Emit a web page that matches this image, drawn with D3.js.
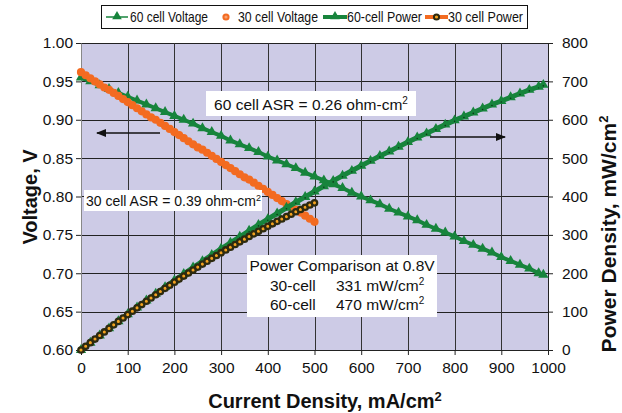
<!DOCTYPE html>
<html>
<head>
<meta charset="utf-8">
<script src="https://cdn.jsdelivr.net/npm/d3@7"></script>
<style>
  html, body { margin: 0; padding: 0; background: #fff; }
  svg { display: block; }
  text { font-family: "Liberation Sans", Arial, sans-serif; fill: #111; }
</style>
</head>
<body>
<svg id="chart" width="622" height="413"></svg>
<script>
// Current density (mA/cm2) for the 60-cell stack
const current60 = [0,20,40,60,80,100,120,140,160,180,200,220,240,260,280,300,320,340,360,380,400,420,440,460,480,500,520,540,560,580,600,620,640,660,680,700,720,740,760,780,800,820,840,860,880,900,920,940,960,980,990];
// Average cell voltage (V), 60-cell stack
const voltage60 = [0.955,0.950,0.945,0.940,0.935,0.930,0.925,0.920,0.915,0.910,0.905,0.900,0.895,0.889,0.884,0.879,0.873,0.868,0.863,0.858,0.852,0.847,0.842,0.837,0.831,0.826,0.821,0.816,0.811,0.805,0.800,0.795,0.790,0.784,0.779,0.774,0.769,0.763,0.758,0.753,0.748,0.742,0.737,0.732,0.727,0.721,0.716,0.711,0.706,0.700,0.698];
// Power density (mW/cm2), 60-cell stack
const power60 = [0,19.0,37.8,56.4,74.8,93.0,111.0,128.8,146.4,163.8,181.0,198.0,214.8,231.1,247.5,263.7,279.4,295.1,310.7,326.0,340.8,355.7,370.5,385.0,398.9,413.0,426.9,440.6,454.2,466.9,480.0,492.9,505.6,517.4,529.7,541.8,553.7,564.6,576.1,587.3,598.4,608.4,619.1,629.5,639.8,648.9,658.7,668.3,677.8,686.0,691.0];

// Current density (mA/cm2) for the 30-cell stack
const current30 = [0,10,20,30,40,50,60,70,80,90,100,110,120,130,140,150,160,170,180,190,200,210,220,230,240,250,260,270,280,290,300,310,320,330,340,350,360,370,380,390,400,410,420,430,440,450,460,470,480,490,500];
// Average cell voltage (V), 30-cell stack
const voltage30 = [0.962,0.958,0.954,0.950,0.946,0.942,0.939,0.935,0.931,0.927,0.923,0.919,0.915,0.911,0.907,0.903,0.900,0.896,0.892,0.888,0.884,0.880,0.876,0.872,0.868,0.864,0.861,0.857,0.853,0.849,0.845,0.841,0.837,0.833,0.829,0.825,0.822,0.818,0.814,0.810,0.806,0.802,0.798,0.794,0.790,0.786,0.783,0.779,0.775,0.771,0.767];
// Power density (mW/cm2), 30-cell stack
const power30 = [0,9.6,19.1,28.5,37.8,47.1,56.3,65.5,74.5,83.4,92.3,101.1,109.8,118.4,127.0,135.5,144.0,152.3,160.6,168.7,176.8,184.8,192.7,200.6,208.3,216.0,223.9,231.4,238.8,246.2,253.5,260.7,267.8,274.9,281.9,288.8,295.9,302.7,309.3,315.9,322.4,328.8,335.2,341.4,347.6,353.7,360.2,366.1,372.0,377.8,383.5];

const xTicks = [0,100,200,300,400,500,600,700,800,900,1000];
const vTicks = [0.60,0.65,0.70,0.75,0.80,0.85,0.90,0.95,1.00];
const pTicks = [0,100,200,300,400,500,600,700,800];

const seriesNames = ["60 cell Voltage", "30 cell Voltage", "60-cell Power", "30 cell Power"];

const GREEN = "#17843c", ORANGE = "#f36b21", DARK = "#2d2a10", GOLD = "#f3a21f";

const svg = d3.select("#chart");
const plot = { left: 81, right: 548, top: 43, bottom: 350 };

const x = d3.scaleLinear().domain([0, 1000]).range([plot.left, plot.right]);
const yV = d3.scaleLinear().domain([0.60, 1.00]).range([plot.bottom, plot.top]);
const yP = d3.scaleLinear().domain([0, 800]).range([plot.bottom, plot.top]);

// plot background
svg.append("rect")
  .attr("x", plot.left).attr("y", plot.top)
  .attr("width", plot.right - plot.left).attr("height", plot.bottom - plot.top)
  .attr("fill", "#cdcbe6");

// grid
const grid = svg.append("g").attr("shape-rendering", "crispEdges");
grid.selectAll("line.h").data(vTicks).join("line")
  .attr("x1", plot.left).attr("x2", plot.right)
  .attr("y1", d => Math.round(yV(d)) + 0.5).attr("y2", d => Math.round(yV(d)) + 0.5)
  .attr("stroke", "#222").attr("stroke-width", 1);
grid.selectAll("line.v").data(xTicks).join("line")
  .attr("y1", plot.top).attr("y2", plot.bottom)
  .attr("x1", d => Math.round(x(d)) + 0.5).attr("x2", d => Math.round(x(d)) + 0.5)
  .attr("stroke", "#333").attr("stroke-width", 1);

// axes
const axisFont = "15.5px";
const gL = svg.append("g").attr("transform", `translate(${plot.left},0)`)
  .call(d3.axisLeft(yV).tickValues(vTicks).tickFormat(d3.format(".2f")).tickSizeOuter(0).tickSizeInner(5).tickPadding(3));
const gR = svg.append("g").attr("transform", `translate(${plot.right},0)`)
  .call(d3.axisRight(yP).tickValues(pTicks).tickFormat(d3.format("d")).tickSizeOuter(0).tickSizeInner(5).tickPadding(9));
const gB = svg.append("g").attr("transform", `translate(0,${plot.bottom})`)
  .call(d3.axisBottom(x).tickValues(xTicks).tickFormat(d3.format("d")).tickSizeOuter(0).tickSizeInner(5).tickPadding(7));
[gL, gR, gB].forEach(g => {
  g.selectAll("text").style("font-size", axisFont).attr("fill", "#111");
  g.selectAll("line").attr("stroke", "#222");
  g.select(".domain").attr("stroke", "#222");
});
gL.select(".domain").attr("stroke", "#888");

// axis titles
svg.append("text").attr("x", 325).attr("y", 408).attr("text-anchor", "middle")
  .style("font-size", "20px").style("font-weight", "bold")
  .html('Current Density, mA/cm<tspan font-size="13px" dy="-7">2</tspan>');
svg.append("text").attr("transform", "translate(37,197) rotate(-90)").attr("text-anchor", "middle")
  .style("font-size", "20px").style("font-weight", "bold").text("Voltage, V");
svg.append("text").attr("transform", "translate(616,234) rotate(-90)").attr("text-anchor", "middle")
  .style("font-size", "21px").style("font-weight", "bold")
  .html('Power Density, mW/cm<tspan font-size="13px" dy="-8">2</tspan>');

// series
const v60 = current60.map((c, i) => ({ c, v: voltage60[i] }));
const p60 = current60.map((c, i) => ({ c, v: power60[i] }));
const v30 = current30.map((c, i) => ({ c, v: voltage30[i] }));
const p30 = current30.map((c, i) => ({ c, v: power30[i] }));

const tri = d3.symbol().type(d3.symbolTriangle).size(46);
const triSmall = d3.symbol().type(d3.symbolTriangle).size(40);
svg.append("defs").append("clipPath").attr("id", "plotClip")
  .append("rect").attr("x", plot.left - 6).attr("y", plot.top - 6)
  .attr("width", plot.right - plot.left + 12).attr("height", plot.bottom - plot.top + 12);
const layer = svg.append("g").attr("clip-path", "url(#plotClip)");

// 60 cell voltage
layer.append("path").datum(v60)
  .attr("d", d3.line().x(d => x(d.c)).y(d => yV(d.v)))
  .attr("fill", "none").attr("stroke", GREEN).attr("stroke-width", 4);
layer.append("g").selectAll("path").data(v60).join("path")
  .attr("transform", d => `translate(${x(d.c)},${yV(d.v)})`)
  .attr("d", tri).attr("fill", GREEN);

// 30 cell voltage
layer.append("g").selectAll("circle").data(v30).join("circle")
  .attr("cx", d => x(d.c)).attr("cy", d => yV(d.v)).attr("r", 3.3)
  .attr("fill", ORANGE).attr("stroke", ORANGE).attr("stroke-width", 1.6);

// 60-cell power
layer.append("path").datum(p60)
  .attr("d", d3.line().x(d => x(d.c)).y(d => yP(d.v)))
  .attr("fill", "none").attr("stroke", GREEN).attr("stroke-width", 5);
const p60g = layer.append("g").selectAll("g").data(p60).join("g")
  .attr("transform", d => `translate(${x(d.c)},${yP(d.v)})`);
p60g.append("path").attr("d", tri).attr("fill", GREEN);
p60g.append("circle").attr("r", 0.8).attr("cy", 1).attr("fill", "#0c3a18");

// 30 cell power
layer.append("path").datum(p30)
  .attr("d", d3.line().x(d => x(d.c)).y(d => yP(d.v)))
  .attr("fill", "none").attr("stroke", ORANGE).attr("stroke-width", 3);
layer.append("g").selectAll("circle").data(p30).join("circle")
  .attr("cx", d => x(d.c)).attr("cy", d => yP(d.v)).attr("r", 2.7)
  .attr("fill", GOLD).attr("stroke", DARK).attr("stroke-width", 2.3);

// arrows pointing each curve family to its axis
const defs = svg.select("defs");
defs.append("marker").attr("id", "arrowHead").attr("viewBox", "0 0 10 10")
  .attr("refX", 9).attr("refY", 5).attr("markerWidth", 7).attr("markerHeight", 7)
  .attr("orient", "auto-start-reverse")
  .append("path").attr("d", "M0,1 L10,5 L0,9 Z").attr("fill", "#111");
svg.append("line").attr("x1", 160).attr("x2", 97).attr("y1", 133).attr("y2", 133)
  .attr("stroke", "#111").attr("stroke-width", 1.5).attr("marker-end", "url(#arrowHead)");
svg.append("line").attr("x1", 430).attr("x2", 505).attr("y1", 137).attr("y2", 137)
  .attr("stroke", "#111").attr("stroke-width", 1.5).attr("marker-end", "url(#arrowHead)");

// annotation boxes
function noteBox(bx, by, bw, bh) {
  svg.append("rect").attr("x", bx).attr("y", by).attr("width", bw).attr("height", bh).attr("fill", "#fff");
}
noteBox(206, 91, 210, 25);
svg.append("text").attr("x", 311).attr("y", 110).attr("text-anchor", "middle")
  .style("font-size", "15.5px")
  .html('60 cell ASR = 0.26 ohm-cm<tspan font-size="10px" dy="-6">2</tspan>');
noteBox(84, 190, 178, 21);
svg.append("text").attr("x", 86).attr("y", 206)
  .style("font-size", "14px")
  .html('30 cell ASR = 0.39 ohm-cm<tspan font-size="9px" dy="-5">2</tspan>');
noteBox(247, 255, 190, 62);
svg.append("text").attr("x", 342).attr("y", 271).attr("text-anchor", "middle")
  .style("font-size", "15.5px").text("Power Comparison at 0.8V");
svg.append("text").attr("x", 270).attr("y", 291).style("font-size", "15.5px").text("30-cell");
svg.append("text").attr("x", 336).attr("y", 291).style("font-size", "15.5px")
  .html('331 mW/cm<tspan font-size="10px" dy="-6">2</tspan>');
svg.append("text").attr("x", 270).attr("y", 310).style("font-size", "15.5px").text("60-cell");
svg.append("text").attr("x", 336).attr("y", 310).style("font-size", "15.5px")
  .html('470 mW/cm<tspan font-size="10px" dy="-6">2</tspan>');

// legend
const lg = svg.append("g");
lg.append("rect").attr("x", 101.5).attr("y", 5.5).attr("width", 426).attr("height", 23)
  .attr("fill", "#fff").attr("stroke", "#111").attr("stroke-width", 1);
const legendItems = [
  { name: seriesNames[0], x0: 106, x1: 128, tx: 130, w: 78, kind: "v60" },
  { name: seriesNames[1], x0: 218, x1: 234, tx: 238, w: 80, kind: "v30" },
  { name: seriesNames[2], x0: 323, x1: 347, tx: 347, w: 75, kind: "p60" },
  { name: seriesNames[3], x0: 425, x1: 448, tx: 448, w: 75, kind: "p30" }
];
const ly = 17;
legendItems.forEach(it => {
  const mx = (it.x0 + it.x1) / 2;
  if (it.kind === "v60") {
    lg.append("line").attr("x1", it.x0).attr("x2", it.x1).attr("y1", ly).attr("y2", ly).attr("stroke", GREEN).attr("stroke-width", 1.5);
    lg.append("path").attr("transform", `translate(${mx},${ly - 0.5})`).attr("d", triSmall).attr("fill", GREEN);
  } else if (it.kind === "v30") {
    lg.append("circle").attr("cx", 226).attr("cy", ly).attr("r", 2.6).attr("fill", "#f8a070").attr("stroke", ORANGE).attr("stroke-width", 2);
  } else if (it.kind === "p60") {
    lg.append("line").attr("x1", it.x0).attr("x2", it.x1).attr("y1", ly).attr("y2", ly).attr("stroke", GREEN).attr("stroke-width", 4);
    lg.append("path").attr("transform", `translate(${mx},${ly - 0.5})`).attr("d", triSmall).attr("fill", GREEN);
  } else {
    lg.append("line").attr("x1", it.x0).attr("x2", it.x1).attr("y1", ly).attr("y2", ly).attr("stroke", ORANGE).attr("stroke-width", 4);
    lg.append("circle").attr("cx", mx).attr("cy", ly).attr("r", 2.6).attr("fill", GOLD).attr("stroke", DARK).attr("stroke-width", 2);
  }
  lg.append("text").attr("x", it.tx).attr("y", ly + 5)
    .attr("textLength", it.w).attr("lengthAdjust", "spacingAndGlyphs")
    .style("font-size", "15px").text(it.name);
});
</script>
</body>
</html>
